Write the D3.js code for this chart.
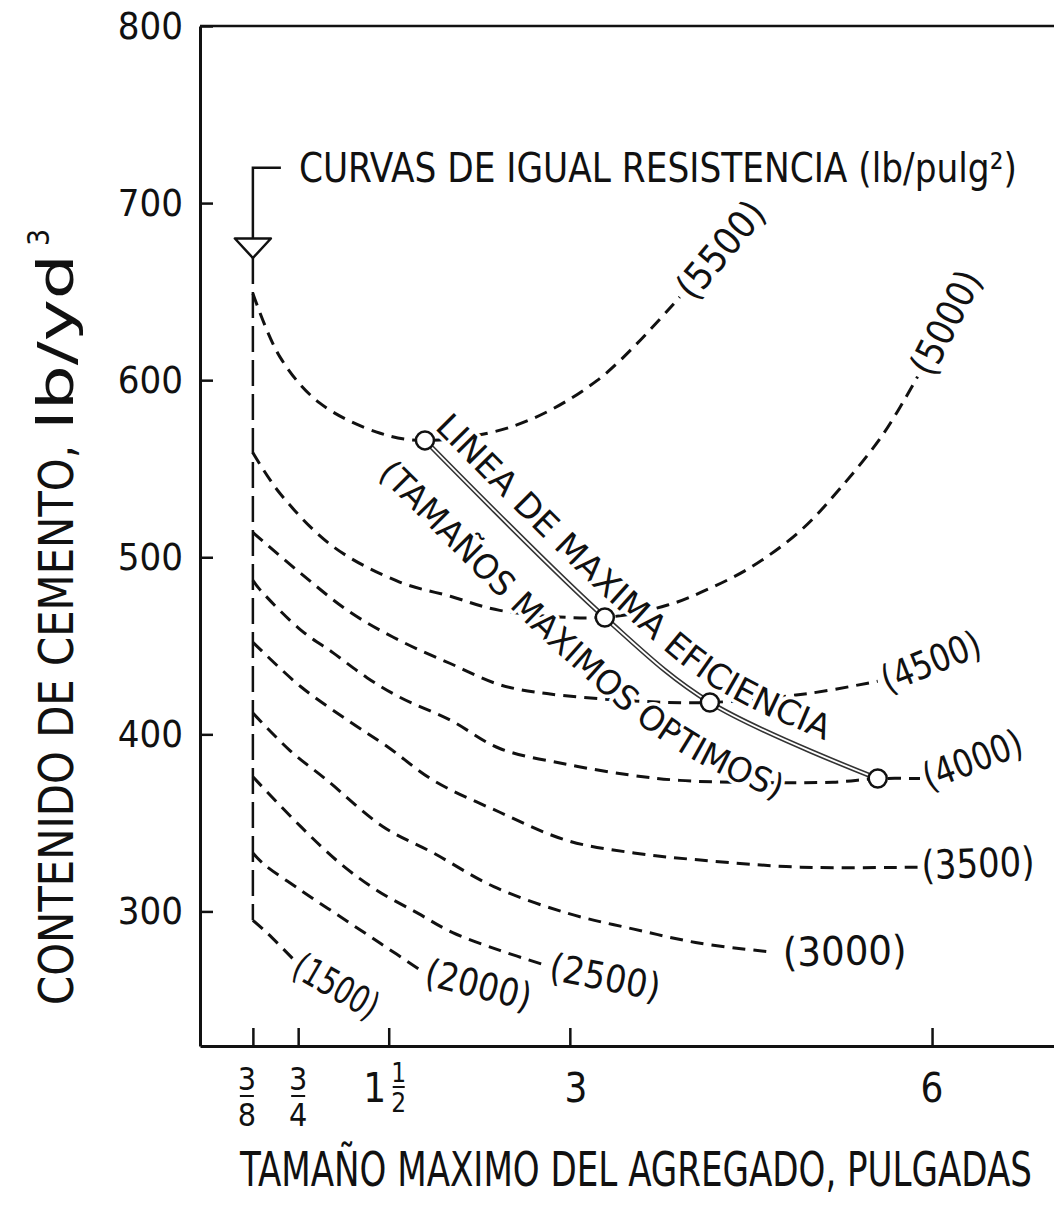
<!DOCTYPE html>
<html>
<head>
<meta charset="utf-8">
<script src="https://cdn.jsdelivr.net/npm/d3@7"></script>
<style>
  body { margin: 0; background: #fff; }
  svg { display: block; }
  text { font-family: "DejaVu Sans Condensed", "Liberation Sans Narrow", "DejaVu Sans", sans-serif; fill: #111; }
</style>
</head>
<body>
<svg></svg>
<script>
// tamaño maximo del agregado (pulgadas) vs contenido de cemento (lb/yd3)
const sizeTicks = [0.375, 0.75, 1.5, 3, 6];
const cementTicks = [300, 400, 500, 600, 700, 800];

// curvas de igual resistencia: [tamaño, cemento]
const c5500 = [[0.375,649],[0.60,613],[0.93,587],[1.43,570],[1.80,566],[2.53,574],[3.23,600],[3.91,647]];
const c5000 = [[0.375,559],[0.60,536],[1.04,506],[1.59,486],[2.01,478],[2.42,470],[3.28,466],[3.81,473],[4.08,480],[4.49,494],[4.91,515],[5.24,539],[5.60,570],[5.88,602]];
const c4500 = [[0.375,514],[0.77,491],[1.18,469],[1.59,453],[2.01,440],[2.42,428],[2.81,423],[3.50,419],[4.16,418],[4.97,423],[5.55,430]];
const c4000 = [[0.375,487],[0.43,482],[0.77,459],[1.04,446],[1.32,432],[1.59,421],[2.01,408],[2.42,392],[2.98,383],[3.50,377],[3.91,374],[4.35,373],[5.18,373],[5.55,375],[5.90,375]];
const c3500 = [[0.375,452],[0.77,427],[1.16,408],[1.49,393],[1.87,374],[2.42,356],[2.98,340],[3.53,333],[4.08,329],[4.91,325],[5.88,325]];
const c3000 = [[0.375,412],[0.68,391],[0.99,374],[1.45,348],[1.87,333],[2.37,314],[2.98,299],[3.53,290],[4.08,282],[4.68,277]];
const c2500 = [[0.375,376],[0.77,348],[1.10,327],[1.40,312],[1.74,299],[2.03,288],[2.42,278],[2.78,270]];
const c2000 = [[0.375,333],[0.46,327],[0.77,312],[1.10,297],[1.43,282],[1.76,267]];
const c1500 = [[0.375,295],[0.49,288],[0.71,273]];

// linea de maxima eficiencia
const efSize = [1.80, 3.29, 4.16, 5.55];
const efCement = [566, 466, 418, 375];

// flecha de la leyenda (en unidades de cemento, sobre 3/8")
const arrowCement = { leader: 720, head: 680, tip: 669, end: 295 };

const W = 1054, H = 1223;
const svg = d3.select("svg").attr("width", W).attr("height", H);

const x = d3.scaleLinear().domain([-0.063, 7.01]).range([200, 1054]);
const y = d3.scaleLinear().domain([224, 800]).range([1046, 26]);

const ink = "#111";

// ejes
svg.append("g")
  .attr("transform", `translate(${x.range()[0]},0)`)
  .call(d3.axisLeft(y).tickValues(cementTicks).tickSizeInner(-13).tickSizeOuter(0).tickPadding(17))
  .call(g => g.select(".domain").attr("stroke", ink).attr("stroke-width", 3))
  .call(g => g.selectAll(".tick line").attr("stroke", ink).attr("stroke-width", 2.5))
  .call(g => g.selectAll(".tick text").attr("font-size", 38).attr("fill", ink)
    .style("font-family", "'DejaVu Sans Condensed', sans-serif"));

svg.append("g")
  .attr("transform", `translate(0,${y.range()[0]})`)
  .call(d3.axisBottom(x).tickValues(sizeTicks).tickSizeInner(-18).tickSizeOuter(0).tickFormat(""))
  .call(g => g.select(".domain").attr("stroke", ink).attr("stroke-width", 3))
  .call(g => g.selectAll(".tick line").attr("stroke", ink).attr("stroke-width", 2.5));

// marco superior
svg.append("line")
  .attr("x1", x.range()[0]).attr("x2", x.range()[1])
  .attr("y1", y(800)).attr("y2", y(800))
  .attr("stroke", ink).attr("stroke-width", 2.5);

// etiquetas del eje x (fracciones)
const xl = svg.append("g").attr("fill", ink);
const base = y.range()[0];
function frac(cx, num, den, fs) {
  xl.append("text").attr("x", cx).attr("y", base + 44).attr("text-anchor", "middle").attr("font-size", fs).text(num);
  xl.append("line").attr("x1", cx - 7).attr("x2", cx + 7).attr("y1", base + 50).attr("y2", base + 50)
    .attr("stroke", ink).attr("stroke-width", 2);
  xl.append("text").attr("x", cx).attr("y", base + 80).attr("text-anchor", "middle").attr("font-size", fs).text(den);
}
frac(x(sizeTicks[0]) - 6, "3", "8", 32);
frac(x(sizeTicks[1]), "3", "4", 32);
xl.append("text").attr("x", x(sizeTicks[2]) - 14).attr("y", base + 56).attr("text-anchor", "middle").attr("font-size", 40).text("1");
xl.append("text").attr("x", x(sizeTicks[2]) + 10).attr("y", base + 36).attr("text-anchor", "middle").attr("font-size", 26).text("1");
xl.append("line").attr("x1", x(sizeTicks[2]) + 4).attr("x2", x(sizeTicks[2]) + 16).attr("y1", base + 41).attr("y2", base + 41)
  .attr("stroke", ink).attr("stroke-width", 2);
xl.append("text").attr("x", x(sizeTicks[2]) + 10).attr("y", base + 66).attr("text-anchor", "middle").attr("font-size", 26).text("2");
xl.append("text").attr("x", x(sizeTicks[3]) + 6).attr("y", base + 56).attr("text-anchor", "middle").attr("font-size", 40).text("3");
xl.append("text").attr("x", x(sizeTicks[4])).attr("y", base + 56).attr("text-anchor", "middle").attr("font-size", 40).text("6");

// titulos de ejes (escalado horizontal para que quepa)
const xTitle = svg.append("text")
  .attr("text-anchor", "middle").attr("font-size", 48)
  .text("TAMAÑO MAXIMO DEL AGREGADO, PULGADAS");
const xTitleW = xTitle.node().getComputedTextLength();
xTitle.attr("transform", `translate(636,1186) scale(${792 / xTitleW},1)`);

const yTitle = svg.append("g").attr("transform", "translate(73,0) rotate(-90)");
yTitle.append("text")
  .attr("x", -1005).attr("y", 0).attr("font-size", 48)
  .attr("textLength", 560).attr("lengthAdjust", "spacingAndGlyphs")
  .text("CONTENIDO DE CEMENTO,");
yTitle.append("text")
  .attr("x", -430).attr("y", 0).attr("font-size", 50)
  .attr("textLength", 176).attr("lengthAdjust", "spacingAndGlyphs")
  .text("lb/yd");
yTitle.append("text")
  .attr("x", -246).attr("y", -24).attr("font-size", 30)
  .text("3");

// linea vertical en 3/8"
const x0 = x(sizeTicks[0]);
svg.append("line")
  .attr("x1", x0).attr("x2", x0)
  .attr("y1", y(arrowCement.tip)).attr("y2", y(arrowCement.end))
  .attr("stroke", ink).attr("stroke-width", 2.5).attr("stroke-dasharray", "26 8");

// curvas
const line = d3.line().x(d => x(d[0])).y(d => y(d[1])).curve(d3.curveCatmullRom.alpha(0.5));
const curves = [
  { name: "5500", pts: c5500 }, { name: "5000", pts: c5000 }, { name: "4500", pts: c4500 },
  { name: "4000", pts: c4000 }, { name: "3500", pts: c3500 }, { name: "3000", pts: c3000 },
  { name: "2500", pts: c2500 }, { name: "2000", pts: c2000 }, { name: "1500", pts: c1500 }
];
svg.append("g").selectAll("path").data(curves).join("path")
  .attr("d", d => line(d.pts))
  .attr("fill", "none").attr("stroke", ink).attr("stroke-width", 3)
  .attr("stroke-dasharray", "13 8");

// linea de maxima eficiencia (doble trazo)
const efPts = efSize.map((s, i) => [x(s), y(efCement[i])]);
const efLine = d3.line().curve(d3.curveCatmullRom.alpha(0.5));
svg.append("path").attr("d", efLine(efPts)).attr("fill", "none").attr("stroke", "#333").attr("stroke-width", 5);
svg.append("path").attr("d", efLine(efPts)).attr("fill", "none").attr("stroke", "#fff").attr("stroke-width", 1.8);

// caminos desplazados para los textos
function offsetPts(pts, d, ext0, ext1) {
  const out = pts.map((p, i) => {
    const a = pts[Math.max(i - 1, 0)], b = pts[Math.min(i + 1, pts.length - 1)];
    const dx = b[0] - a[0], dy = b[1] - a[1], L = Math.hypot(dx, dy);
    return [p[0] + d * dy / L, p[1] - d * dx / L];
  });
  const s = out[0], s2 = out[1], e = out[out.length - 1], e2 = out[out.length - 2];
  const l0 = Math.hypot(s2[0] - s[0], s2[1] - s[1]), l1 = Math.hypot(e[0] - e2[0], e[1] - e2[1]);
  out.unshift([s[0] - ext0 * (s2[0] - s[0]) / l0, s[1] - ext0 * (s2[1] - s[1]) / l0]);
  out.push([e[0] + ext1 * (e[0] - e2[0]) / l1, e[1] + ext1 * (e[1] - e2[1]) / l1]);
  return out;
}
const defs = svg.append("defs");
defs.append("path").attr("id", "pEf").attr("d", efLine(offsetPts(efPts, 15, 20, 60)));
defs.append("path").attr("id", "pTam").attr("d", efLine(offsetPts(efPts, -58, 40, 60)));

const halo = sel => sel.attr("stroke", "#fff").attr("stroke-width", 7).attr("paint-order", "stroke").attr("stroke-linejoin", "round");

svg.append("text").attr("font-size", 34).call(halo)
  .append("textPath").attr("href", "#pEf").attr("startOffset", 18)
  .attr("textLength", 505).attr("lengthAdjust", "spacingAndGlyphs")
  .text("LINEA DE MAXIMA EFICIENCIA");

svg.append("text").attr("font-size", 34).call(halo)
  .append("textPath").attr("href", "#pTam").attr("startOffset", 30)
  .attr("textLength", 520).attr("lengthAdjust", "spacingAndGlyphs")
  .text("(TAMAÑOS MAXIMOS OPTIMOS)");

// circulos
svg.append("g").selectAll("circle").data(efPts).join("circle")
  .attr("cx", d => d[0]).attr("cy", d => d[1]).attr("r", 9)
  .attr("fill", "#fff").attr("stroke", ink).attr("stroke-width", 2.5);

// etiquetas de las curvas
const labelStyle = {
  "5500": { dx: 4, dy: -3, rot: -50, len: 115, fs: 38 },
  "5000": { dx: 3, dy: -4, rot: -63, len: 112, fs: 38 },
  "4500": { dx: 5, dy: 0, rot: -22, len: 104, fs: 38 },
  "4000": { dx: 4, dy: 0, rot: -21, len: 104, fs: 38 },
  "3500": { dx: 4, dy: -2, rot: -2, len: 113, fs: 40 },
  "3000": { dx: 10, dy: 0, rot: -1, len: 124, fs: 40 },
  "2500": { dx: 7, dy: 2, rot: 11, len: 112, fs: 38 },
  "2000": { dx: 6, dy: 2, rot: 14, len: 108, fs: 38 },
  "1500": { dx: 3, dy: 4, rot: 30, len: 92, fs: 38 }
};
svg.append("g").selectAll("text").data(curves).join("text")
  .attr("transform", d => {
    const p = d.pts[d.pts.length - 1], s = labelStyle[d.name];
    return `translate(${x(p[0]) + s.dx},${y(p[1]) + s.dy}) rotate(${s.rot})`;
  })
  .attr("dominant-baseline", "central")
  .attr("font-size", d => labelStyle[d.name].fs)
  .attr("textLength", d => labelStyle[d.name].len).attr("lengthAdjust", "spacingAndGlyphs")
  .call(halo)
  .text(d => `(${d.name})`);

// leyenda con flecha
const yl = y(arrowCement.leader), yh = y(arrowCement.head), yt = y(arrowCement.tip);
svg.append("path")
  .attr("d", `M${x0 + 28},${yl} H${x0} V${yh}`)
  .attr("fill", "none").attr("stroke", ink).attr("stroke-width", 2.5);
svg.append("path")
  .attr("d", `M${x0 - 18},${yh} H${x0 + 18} L${x0},${yt} Z`)
  .attr("fill", "#fff").attr("stroke", ink).attr("stroke-width", 2.5).attr("stroke-linejoin", "round");
svg.append("text")
  .attr("x", x0 + 46).attr("y", yl)
  .attr("dominant-baseline", "central").attr("font-size", 40)
  .attr("textLength", 718).attr("lengthAdjust", "spacingAndGlyphs")
  .text("CURVAS DE IGUAL RESISTENCIA (lb/pulg²)");
</script>
</body>
</html>
